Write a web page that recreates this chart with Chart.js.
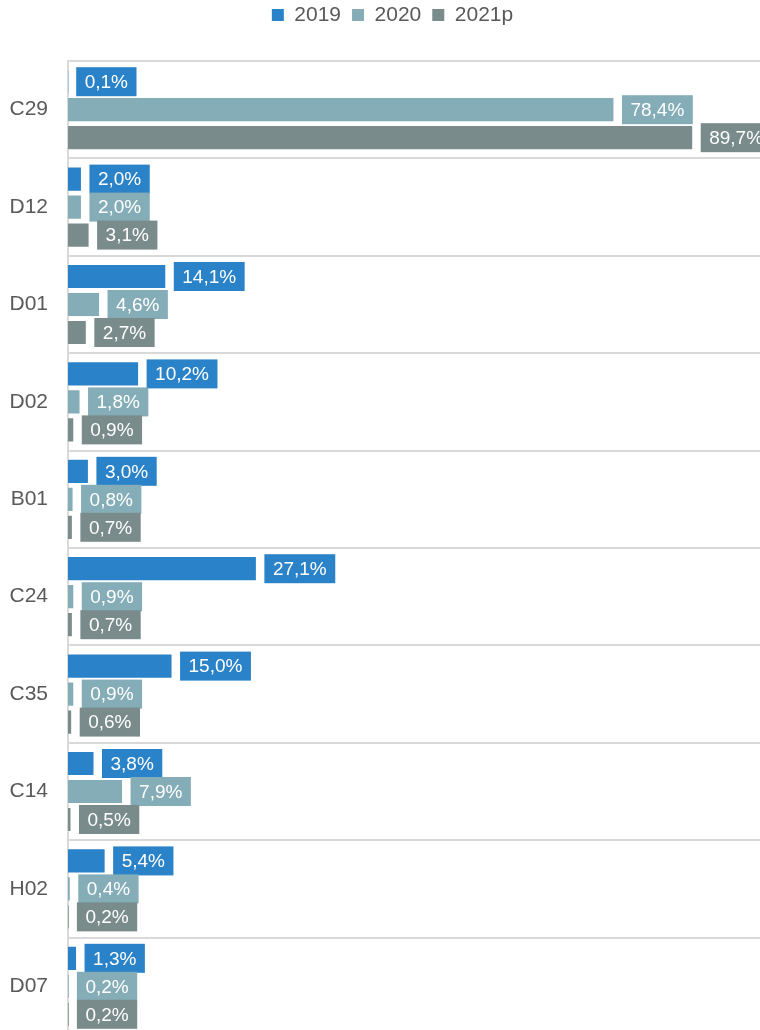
<!DOCTYPE html>
<html><head><meta charset="utf-8">
<script src="https://cdn.jsdelivr.net/npm/chart.js@4/dist/chart.umd.min.js"></script>
<style>html,body{margin:0;padding:0;background:#fff;overflow:hidden;width:760px;height:1030px}canvas{display:block}</style>
</head><body>
<canvas id="c" width="785" height="1035"></canvas>
<script>
const categories = ['C29','D12','D01','D02','B01','C24','C35','C14','H02','D07'];
const seriesNames = ['2019','2020','2021p'];
const values2019 = [0.1, 2.0, 14.1, 10.2, 3.0, 27.1, 15.0, 3.8, 5.4, 1.3];
const values2020 = [78.4, 2.0, 4.6, 1.8, 0.8, 0.9, 0.9, 7.9, 0.4, 0.2];
const values2021p = [89.7, 3.1, 2.7, 0.9, 0.7, 0.7, 0.6, 0.5, 0.2, 0.2];
const seriesColors = ['#2A82C8', '#85ADB7', '#7A8B8B'];

const FONT = '"Liberation Sans", Arial, sans-serif';
const TEXT = '#595959';

const labelPlugin = {
  id: 'boxLabels',
  afterDatasetsDraw(chart) {
    const ctx = chart.ctx;
    ctx.save();
    ctx.font = '19px ' + FONT;
    ctx.textBaseline = 'middle';
    ctx.textAlign = 'left';
    chart.data.datasets.forEach((ds, i) => {
      const meta = chart.getDatasetMeta(i);
      meta.data.forEach((bar, j) => {
        const txt = ds.data[j].toFixed(1).replace('.', ',') + '%';
        const w = ctx.measureText(txt).width + 17;
        const h = 29;
        const x = bar.x + 7.5;
        const y = bar.y - h / 2;
        ctx.fillStyle = ds.backgroundColor;
        ctx.fillRect(x, y, w, h);
        ctx.fillStyle = '#ffffff';
        ctx.fillText(txt, x + 8.5, bar.y + 1);
      });
    });
    ctx.restore();
  }
};

const legendPlugin = {
  id: 'legendTweak',
  beforeLayout(chart) {
    const lg = chart.legend;
    if (lg && !lg._patched) {
      const f = lg.fit;
      lg.fit = function () { f.call(this); this.height = 61; };
      lg._patched = true;
    }
  },
  afterLayout(chart) {
    const lg = chart.legend;
    if (lg) { lg.top -= 6.5; lg.left += 10; lg.right += 10; }
  }
};

new Chart(document.getElementById('c'), {
  type: 'bar',
  data: {
    labels: categories,
    datasets: [
      { label: seriesNames[0], data: values2019, backgroundColor: seriesColors[0] },
      { label: seriesNames[1], data: values2020, backgroundColor: seriesColors[1] },
      { label: seriesNames[2], data: values2021p, backgroundColor: seriesColors[2] }
    ]
  },
  options: {
    indexAxis: 'y',
    responsive: false,
    animation: false,
    devicePixelRatio: 1,
    layout: { autoPadding: false, padding: { left: 0, right: 20, top: 0, bottom: 0 } },
    datasets: {
      bar: {
        categoryPercentage: 0.862,
        barPercentage: 0.9,
        borderWidth: 1,
        borderColor: 'rgba(255,255,255,0.45)'
      }
    },
    plugins: {
      tooltip: { enabled: false },
      legend: {
        position: 'top',
        align: 'center',
        labels: {
          font: { family: FONT, size: 21 },
          color: TEXT,
          boxWidth: 12,
          boxHeight: 12,
          padding: 11,
          generateLabels(chart) {
            return chart.data.datasets.map((ds, i) => ({
              text: ds.label,
              fillStyle: ds.backgroundColor,
              strokeStyle: ds.backgroundColor,
              lineWidth: 0,
              fontColor: TEXT,
              hidden: false,
              datasetIndex: i
            }));
          }
        }
      }
    },
    scales: {
      x: { display: false, min: 0, max: 100 },
      y: {
        grid: { color: '#D9D9D9', lineWidth: 2, drawTicks: false, offset: true },
        border: { color: '#D9D9D9', width: 2 },
        ticks: { font: { family: FONT, size: 21 }, color: TEXT, padding: 20 },
        afterFit(axis) { axis.width = 68; axis.paddingTop = 0; axis.paddingBottom = 0; }
      }
    }
  },
  plugins: [labelPlugin, legendPlugin]
});
</script>
</body></html>
